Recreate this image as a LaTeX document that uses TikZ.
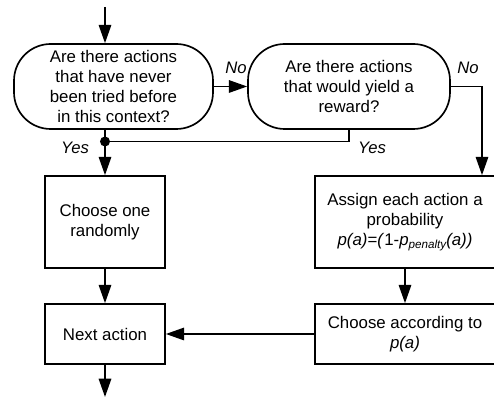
\documentclass[tikz,border=0pt]{standalone}
\usepackage{fontspec}
\setmainfont{Liberation Sans}
\usepackage{tikz}
\usetikzlibrary{arrows.meta}
\tikzset{decision/.style={draw, line width=1pt, rounded corners=22pt, align=center,
        inner sep=0pt, minimum width=119.4pt, minimum height=51pt},
    process/.style={draw, line width=1pt, align=center, inner sep=0pt,
        minimum width=72pt, minimum height=55.2pt},
    flow/.style={line width=1pt, -{Triangle[width=7.5pt,length=11pt]}},
    branch/.style={font=\itshape}}

\begin{document}
\begin{tikzpicture}[x=0.6pt, y=-0.6pt, font=\fontsize{10.1}{12}\selectfont]
    \clip (0,0) rectangle (494,397);
    \node[decision] (tried) at (113.5,86.5) {Are there actions\\that have never\\been tried before\\in this context?};
    \node[decision, minimum width=121.2pt] (reward) at (349,86.5) {Are there actions\\that would yield a\\reward?};
    \node[process] (random) at (105,222) {Choose one\\randomly};
    \node[process, minimum width=108pt] (assign) at (405,222) {Assign each action a\\probability\\\textit{p(a)=(}1-\textit{p\raisebox{-0.3ex}{\scriptsize penalty}(a))}};
    \node[process, minimum height=36pt] (next) at (105,334) {Next action};
    \node[process, minimum width=108pt, minimum height=36pt] (choose) at (405,334) {Choose according to\\\textit{p(a)}};
    \coordinate (start) at (105,7);
    \coordinate (stop) at (105,397);
    \coordinate (join) at (105,141.5);
    \coordinate (turn) at (482,0);
    \draw[flow] (start) -- (start |- tried.north);
    \draw[flow] (tried.east) -- (reward.west);
    \draw[flow] (reward.east) -| (turn |- assign.north);
    \draw[line width=1pt] (reward.south) |- (join);
    \draw[flow] (join |- tried.south) -- (random.north);
    \fill (join) circle (3pt);
    \draw[flow] (random) -- (next);
    \draw[flow] (assign) -- (choose);
    \draw[flow] (choose) -- (next);
    \draw[flow] (next) -- (stop);
    \node[branch] (no1) at (236,68) {No};
    \node[branch] (no2) at (468,68) {No};
    \node[branch] (yes1) at (75,148) {Yes};
    \node[branch] (yes2) at (372,148) {Yes};
\end{tikzpicture}
\end{document}
